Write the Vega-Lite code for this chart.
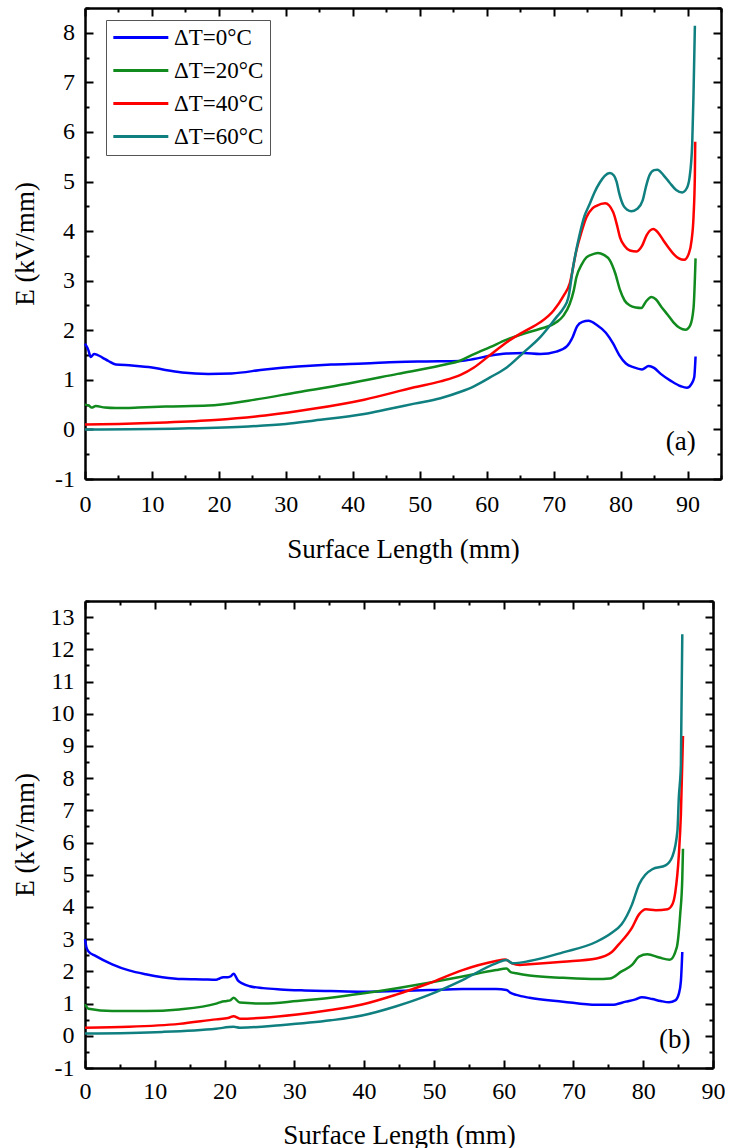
{
  "$schema": "https://vega.github.io/schema/vega-lite/v6.json",
  "background": "white",
  "padding": {"left": 11, "top": 7, "right": 0, "bottom": 0},
  "spacing": 37,
  "config": {
    "view": {"stroke": null},
    "style": {"guide-label": {"font": "Liberation Serif", "fill": "black"}, "guide-title": {"font": "Liberation Serif", "fill": "black"}},
    "axis": {
      "labelFont": "Liberation Serif", "labelColor": "black",
      "titleFont": "Liberation Serif", "titleFontSize": 27, "titleFontWeight": "normal", "titleColor": "black",
      "domainColor": "black", "domainWidth": 2.5, "tickColor": "black", "tickWidth": 2,
      "grid": false, "labelOverlap": false, "labelFlush": false, "labelBound": false
    },
    "legend": {
      "labelFont": "Liberation Serif", "labelFontSize": 23, "labelColor": "black"
    }
  },
  "datasets": {
    "a": [
      {"x":0,"E":1.73,"s":"ΔT=0°C"},{"x":0.5,"E":1.6,"s":"ΔT=0°C"},{"x":0.85,"E":1.46,"s":"ΔT=0°C"},{"x":1.35,"E":1.52,"s":"ΔT=0°C"},{"x":1.9,"E":1.5,"s":"ΔT=0°C"},{"x":2.6,"E":1.45,"s":"ΔT=0°C"},{"x":3.5,"E":1.38,"s":"ΔT=0°C"},{"x":4.6,"E":1.31,"s":"ΔT=0°C"},{"x":7,"E":1.29,"s":"ΔT=0°C"},{"x":10,"E":1.25,"s":"ΔT=0°C"},{"x":12,"E":1.2,"s":"ΔT=0°C"},{"x":14.5,"E":1.15,"s":"ΔT=0°C"},{"x":18.4,"E":1.12,"s":"ΔT=0°C"},{"x":21.9,"E":1.13,"s":"ΔT=0°C"},{"x":26.9,"E":1.21,"s":"ΔT=0°C"},{"x":31.8,"E":1.27,"s":"ΔT=0°C"},{"x":36.8,"E":1.31,"s":"ΔT=0°C"},{"x":41.7,"E":1.33,"s":"ΔT=0°C"},{"x":46.7,"E":1.36,"s":"ΔT=0°C"},{"x":51,"E":1.37,"s":"ΔT=0°C"},{"x":56.1,"E":1.38,"s":"ΔT=0°C"},{"x":58.1,"E":1.42,"s":"ΔT=0°C"},{"x":60.6,"E":1.49,"s":"ΔT=0°C"},{"x":63,"E":1.53,"s":"ΔT=0°C"},{"x":65.5,"E":1.54,"s":"ΔT=0°C"},{"x":68,"E":1.52,"s":"ΔT=0°C"},{"x":70.4,"E":1.57,"s":"ΔT=0°C"},{"x":72,"E":1.68,"s":"ΔT=0°C"},{"x":72.8,"E":1.85,"s":"ΔT=0°C"},{"x":73.5,"E":2.08,"s":"ΔT=0°C"},{"x":74.3,"E":2.17,"s":"ΔT=0°C"},{"x":75.2,"E":2.19,"s":"ΔT=0°C"},{"x":76.5,"E":2.1,"s":"ΔT=0°C"},{"x":77.8,"E":1.95,"s":"ΔT=0°C"},{"x":78.9,"E":1.73,"s":"ΔT=0°C"},{"x":79.8,"E":1.5,"s":"ΔT=0°C"},{"x":80.8,"E":1.33,"s":"ΔT=0°C"},{"x":82,"E":1.25,"s":"ΔT=0°C"},{"x":83.2,"E":1.21,"s":"ΔT=0°C"},{"x":84.2,"E":1.28,"s":"ΔT=0°C"},{"x":85,"E":1.24,"s":"ΔT=0°C"},{"x":86,"E":1.12,"s":"ΔT=0°C"},{"x":87.5,"E":0.98,"s":"ΔT=0°C"},{"x":89,"E":0.87,"s":"ΔT=0°C"},{"x":89.9,"E":0.84,"s":"ΔT=0°C"},{"x":90.6,"E":0.92,"s":"ΔT=0°C"},{"x":91,"E":1.05,"s":"ΔT=0°C"},{"x":91.2,"E":1.47,"s":"ΔT=0°C"},
      {"x":0,"E":0.5,"s":"ΔT=20°C"},{"x":0.6,"E":0.48,"s":"ΔT=20°C"},{"x":1,"E":0.44,"s":"ΔT=20°C"},{"x":1.6,"E":0.47,"s":"ΔT=20°C"},{"x":3,"E":0.44,"s":"ΔT=20°C"},{"x":4.6,"E":0.43,"s":"ΔT=20°C"},{"x":8,"E":0.44,"s":"ΔT=20°C"},{"x":12,"E":0.46,"s":"ΔT=20°C"},{"x":18.4,"E":0.48,"s":"ΔT=20°C"},{"x":24.4,"E":0.58,"s":"ΔT=20°C"},{"x":31.8,"E":0.75,"s":"ΔT=20°C"},{"x":39.2,"E":0.92,"s":"ΔT=20°C"},{"x":46.7,"E":1.12,"s":"ΔT=20°C"},{"x":53.1,"E":1.29,"s":"ΔT=20°C"},{"x":56.1,"E":1.39,"s":"ΔT=20°C"},{"x":58.1,"E":1.52,"s":"ΔT=20°C"},{"x":60.5,"E":1.66,"s":"ΔT=20°C"},{"x":63,"E":1.81,"s":"ΔT=20°C"},{"x":65.5,"E":1.93,"s":"ΔT=20°C"},{"x":68,"E":2.03,"s":"ΔT=20°C"},{"x":70.4,"E":2.16,"s":"ΔT=20°C"},{"x":71.5,"E":2.3,"s":"ΔT=20°C"},{"x":72.4,"E":2.53,"s":"ΔT=20°C"},{"x":73,"E":2.8,"s":"ΔT=20°C"},{"x":73.4,"E":3.07,"s":"ΔT=20°C"},{"x":74.2,"E":3.33,"s":"ΔT=20°C"},{"x":74.9,"E":3.47,"s":"ΔT=20°C"},{"x":76,"E":3.54,"s":"ΔT=20°C"},{"x":76.6,"E":3.56,"s":"ΔT=20°C"},{"x":77.5,"E":3.52,"s":"ΔT=20°C"},{"x":78.4,"E":3.41,"s":"ΔT=20°C"},{"x":79.2,"E":3.15,"s":"ΔT=20°C"},{"x":79.9,"E":2.82,"s":"ΔT=20°C"},{"x":80.6,"E":2.6,"s":"ΔT=20°C"},{"x":81.4,"E":2.5,"s":"ΔT=20°C"},{"x":82.3,"E":2.46,"s":"ΔT=20°C"},{"x":83.1,"E":2.45,"s":"ΔT=20°C"},{"x":83.8,"E":2.58,"s":"ΔT=20°C"},{"x":84.6,"E":2.67,"s":"ΔT=20°C"},{"x":85.3,"E":2.62,"s":"ΔT=20°C"},{"x":86.1,"E":2.47,"s":"ΔT=20°C"},{"x":87,"E":2.32,"s":"ΔT=20°C"},{"x":87.9,"E":2.16,"s":"ΔT=20°C"},{"x":88.8,"E":2.05,"s":"ΔT=20°C"},{"x":89.7,"E":2.01,"s":"ΔT=20°C"},{"x":90.4,"E":2.1,"s":"ΔT=20°C"},{"x":90.9,"E":2.45,"s":"ΔT=20°C"},{"x":91.2,"E":3.45,"s":"ΔT=20°C"},
      {"x":0,"E":0.1,"s":"ΔT=40°C"},{"x":5,"E":0.11,"s":"ΔT=40°C"},{"x":12,"E":0.14,"s":"ΔT=40°C"},{"x":19.4,"E":0.19,"s":"ΔT=40°C"},{"x":26.9,"E":0.28,"s":"ΔT=40°C"},{"x":34.3,"E":0.42,"s":"ΔT=40°C"},{"x":41.7,"E":0.6,"s":"ΔT=40°C"},{"x":49.2,"E":0.85,"s":"ΔT=40°C"},{"x":53.1,"E":0.97,"s":"ΔT=40°C"},{"x":56.1,"E":1.1,"s":"ΔT=40°C"},{"x":58.1,"E":1.25,"s":"ΔT=40°C"},{"x":60.5,"E":1.5,"s":"ΔT=40°C"},{"x":63,"E":1.76,"s":"ΔT=40°C"},{"x":65.5,"E":1.97,"s":"ΔT=40°C"},{"x":68,"E":2.16,"s":"ΔT=40°C"},{"x":70,"E":2.4,"s":"ΔT=40°C"},{"x":71.5,"E":2.7,"s":"ΔT=40°C"},{"x":72.4,"E":2.94,"s":"ΔT=40°C"},{"x":73.4,"E":3.61,"s":"ΔT=40°C"},{"x":74.2,"E":4,"s":"ΔT=40°C"},{"x":74.9,"E":4.28,"s":"ΔT=40°C"},{"x":75.8,"E":4.46,"s":"ΔT=40°C"},{"x":76.4,"E":4.51,"s":"ΔT=40°C"},{"x":77.7,"E":4.56,"s":"ΔT=40°C"},{"x":78.9,"E":4.38,"s":"ΔT=40°C"},{"x":79.5,"E":4.1,"s":"ΔT=40°C"},{"x":79.9,"E":3.88,"s":"ΔT=40°C"},{"x":80.6,"E":3.7,"s":"ΔT=40°C"},{"x":81.4,"E":3.61,"s":"ΔT=40°C"},{"x":82.4,"E":3.59,"s":"ΔT=40°C"},{"x":83.2,"E":3.7,"s":"ΔT=40°C"},{"x":83.9,"E":3.92,"s":"ΔT=40°C"},{"x":84.9,"E":4.04,"s":"ΔT=40°C"},{"x":85.6,"E":3.97,"s":"ΔT=40°C"},{"x":86.4,"E":3.81,"s":"ΔT=40°C"},{"x":87.2,"E":3.66,"s":"ΔT=40°C"},{"x":87.9,"E":3.54,"s":"ΔT=40°C"},{"x":88.7,"E":3.45,"s":"ΔT=40°C"},{"x":89.5,"E":3.42,"s":"ΔT=40°C"},{"x":90.2,"E":3.55,"s":"ΔT=40°C"},{"x":90.6,"E":3.81,"s":"ΔT=40°C"},{"x":90.9,"E":4.3,"s":"ΔT=40°C"},{"x":91.1,"E":5.15,"s":"ΔT=40°C"},{"x":91.15,"E":5.8,"s":"ΔT=40°C"},
      {"x":0,"E":0,"s":"ΔT=60°C"},{"x":14.5,"E":0.02,"s":"ΔT=60°C"},{"x":24.4,"E":0.06,"s":"ΔT=60°C"},{"x":30,"E":0.11,"s":"ΔT=60°C"},{"x":34.3,"E":0.18,"s":"ΔT=60°C"},{"x":41.7,"E":0.31,"s":"ΔT=60°C"},{"x":45,"E":0.4,"s":"ΔT=60°C"},{"x":49.2,"E":0.52,"s":"ΔT=60°C"},{"x":53.1,"E":0.63,"s":"ΔT=60°C"},{"x":56.1,"E":0.76,"s":"ΔT=60°C"},{"x":58.1,"E":0.87,"s":"ΔT=60°C"},{"x":60.5,"E":1.05,"s":"ΔT=60°C"},{"x":63,"E":1.25,"s":"ΔT=60°C"},{"x":65.5,"E":1.55,"s":"ΔT=60°C"},{"x":68,"E":1.86,"s":"ΔT=60°C"},{"x":70.4,"E":2.26,"s":"ΔT=60°C"},{"x":71.5,"E":2.45,"s":"ΔT=60°C"},{"x":72.2,"E":2.66,"s":"ΔT=60°C"},{"x":72.9,"E":3.27,"s":"ΔT=60°C"},{"x":73.9,"E":3.94,"s":"ΔT=60°C"},{"x":74.6,"E":4.3,"s":"ΔT=60°C"},{"x":75.4,"E":4.55,"s":"ΔT=60°C"},{"x":76.1,"E":4.78,"s":"ΔT=60°C"},{"x":76.9,"E":4.98,"s":"ΔT=60°C"},{"x":77.6,"E":5.11,"s":"ΔT=60°C"},{"x":78.4,"E":5.17,"s":"ΔT=60°C"},{"x":79,"E":5.12,"s":"ΔT=60°C"},{"x":79.4,"E":5,"s":"ΔT=60°C"},{"x":79.8,"E":4.76,"s":"ΔT=60°C"},{"x":80.4,"E":4.52,"s":"ΔT=60°C"},{"x":81,"E":4.43,"s":"ΔT=60°C"},{"x":81.6,"E":4.4,"s":"ΔT=60°C"},{"x":82.5,"E":4.45,"s":"ΔT=60°C"},{"x":83.3,"E":4.62,"s":"ΔT=60°C"},{"x":83.8,"E":4.9,"s":"ΔT=60°C"},{"x":84.3,"E":5.12,"s":"ΔT=60°C"},{"x":85,"E":5.23,"s":"ΔT=60°C"},{"x":85.5,"E":5.24,"s":"ΔT=60°C"},{"x":86.4,"E":5.13,"s":"ΔT=60°C"},{"x":87.3,"E":4.98,"s":"ΔT=60°C"},{"x":88.3,"E":4.83,"s":"ΔT=60°C"},{"x":89.2,"E":4.78,"s":"ΔT=60°C"},{"x":89.9,"E":4.87,"s":"ΔT=60°C"},{"x":90.3,"E":5.08,"s":"ΔT=60°C"},{"x":90.7,"E":5.76,"s":"ΔT=60°C"},{"x":90.9,"E":6.8,"s":"ΔT=60°C"},{"x":91.1,"E":8.14,"s":"ΔT=60°C"}
    ],
    "b": [
      {"x":0,"E":3.0,"s":"ΔT=0°C"},{"x":0.2,"E":2.75,"s":"ΔT=0°C"},{"x":0.5,"E":2.62,"s":"ΔT=0°C"},{"x":1.5,"E":2.48,"s":"ΔT=0°C"},{"x":3.9,"E":2.22,"s":"ΔT=0°C"},{"x":6.3,"E":2.03,"s":"ΔT=0°C"},{"x":8.7,"E":1.91,"s":"ΔT=0°C"},{"x":11.1,"E":1.82,"s":"ΔT=0°C"},{"x":14,"E":1.76,"s":"ΔT=0°C"},{"x":16.9,"E":1.75,"s":"ΔT=0°C"},{"x":18.8,"E":1.74,"s":"ΔT=0°C"},{"x":19.3,"E":1.78,"s":"ΔT=0°C"},{"x":19.8,"E":1.82,"s":"ΔT=0°C"},{"x":20.5,"E":1.82,"s":"ΔT=0°C"},{"x":20.9,"E":1.85,"s":"ΔT=0°C"},{"x":21.3,"E":1.93,"s":"ΔT=0°C"},{"x":21.9,"E":1.72,"s":"ΔT=0°C"},{"x":22.6,"E":1.62,"s":"ΔT=0°C"},{"x":23.6,"E":1.54,"s":"ΔT=0°C"},{"x":25.5,"E":1.48,"s":"ΔT=0°C"},{"x":28,"E":1.44,"s":"ΔT=0°C"},{"x":31.5,"E":1.41,"s":"ΔT=0°C"},{"x":35.2,"E":1.39,"s":"ΔT=0°C"},{"x":39.7,"E":1.37,"s":"ΔT=0°C"},{"x":44.5,"E":1.39,"s":"ΔT=0°C"},{"x":49.3,"E":1.42,"s":"ΔT=0°C"},{"x":54.1,"E":1.45,"s":"ΔT=0°C"},{"x":58.9,"E":1.45,"s":"ΔT=0°C"},{"x":60.4,"E":1.42,"s":"ΔT=0°C"},{"x":61,"E":1.33,"s":"ΔT=0°C"},{"x":61.8,"E":1.27,"s":"ΔT=0°C"},{"x":63.7,"E":1.18,"s":"ΔT=0°C"},{"x":68.5,"E":1.06,"s":"ΔT=0°C"},{"x":73.3,"E":0.96,"s":"ΔT=0°C"},{"x":75.5,"E":0.96,"s":"ΔT=0°C"},{"x":77.5,"E":1.06,"s":"ΔT=0°C"},{"x":78.9,"E":1.13,"s":"ΔT=0°C"},{"x":79.8,"E":1.2,"s":"ΔT=0°C"},{"x":81.3,"E":1.14,"s":"ΔT=0°C"},{"x":82.5,"E":1.08,"s":"ΔT=0°C"},{"x":83.7,"E":1.04,"s":"ΔT=0°C"},{"x":84.6,"E":1.1,"s":"ΔT=0°C"},{"x":85.1,"E":1.3,"s":"ΔT=0°C"},{"x":85.4,"E":1.7,"s":"ΔT=0°C"},{"x":85.6,"E":2.6,"s":"ΔT=0°C"},
      {"x":0,"E":0.98,"s":"ΔT=20°C"},{"x":0.5,"E":0.84,"s":"ΔT=20°C"},{"x":3.9,"E":0.77,"s":"ΔT=20°C"},{"x":8.7,"E":0.77,"s":"ΔT=20°C"},{"x":13.5,"E":0.82,"s":"ΔT=20°C"},{"x":18.8,"E":1.0,"s":"ΔT=20°C"},{"x":19.5,"E":1.05,"s":"ΔT=20°C"},{"x":20.3,"E":1.08,"s":"ΔT=20°C"},{"x":20.8,"E":1.1,"s":"ΔT=20°C"},{"x":21.3,"E":1.18,"s":"ΔT=20°C"},{"x":22.2,"E":1.03,"s":"ΔT=20°C"},{"x":25.6,"E":1.0,"s":"ΔT=20°C"},{"x":30.4,"E":1.08,"s":"ΔT=20°C"},{"x":35.2,"E":1.18,"s":"ΔT=20°C"},{"x":39.7,"E":1.31,"s":"ΔT=20°C"},{"x":44.5,"E":1.47,"s":"ΔT=20°C"},{"x":49.3,"E":1.65,"s":"ΔT=20°C"},{"x":54.1,"E":1.84,"s":"ΔT=20°C"},{"x":58.9,"E":2.04,"s":"ΔT=20°C"},{"x":60.4,"E":2.09,"s":"ΔT=20°C"},{"x":61,"E":1.98,"s":"ΔT=20°C"},{"x":61.8,"E":1.94,"s":"ΔT=20°C"},{"x":63.7,"E":1.87,"s":"ΔT=20°C"},{"x":68.5,"E":1.8,"s":"ΔT=20°C"},{"x":73.3,"E":1.76,"s":"ΔT=20°C"},{"x":75.2,"E":1.78,"s":"ΔT=20°C"},{"x":76.9,"E":2.0,"s":"ΔT=20°C"},{"x":78.4,"E":2.2,"s":"ΔT=20°C"},{"x":79.4,"E":2.46,"s":"ΔT=20°C"},{"x":80.6,"E":2.53,"s":"ΔT=20°C"},{"x":82.3,"E":2.43,"s":"ΔT=20°C"},{"x":83.8,"E":2.36,"s":"ΔT=20°C"},{"x":84.8,"E":2.74,"s":"ΔT=20°C"},{"x":85.3,"E":3.78,"s":"ΔT=20°C"},{"x":85.6,"E":4.9,"s":"ΔT=20°C"},{"x":85.7,"E":5.81,"s":"ΔT=20°C"},
      {"x":0,"E":0.25,"s":"ΔT=40°C"},{"x":6.3,"E":0.28,"s":"ΔT=40°C"},{"x":13.5,"E":0.37,"s":"ΔT=40°C"},{"x":18.8,"E":0.51,"s":"ΔT=40°C"},{"x":20.5,"E":0.55,"s":"ΔT=40°C"},{"x":21.3,"E":0.61,"s":"ΔT=40°C"},{"x":22.2,"E":0.53,"s":"ΔT=40°C"},{"x":25.6,"E":0.56,"s":"ΔT=40°C"},{"x":30.4,"E":0.66,"s":"ΔT=40°C"},{"x":35.2,"E":0.8,"s":"ΔT=40°C"},{"x":39.7,"E":0.97,"s":"ΔT=40°C"},{"x":44.5,"E":1.27,"s":"ΔT=40°C"},{"x":49.3,"E":1.63,"s":"ΔT=40°C"},{"x":54.1,"E":2.04,"s":"ΔT=40°C"},{"x":58.9,"E":2.32,"s":"ΔT=40°C"},{"x":60.2,"E":2.37,"s":"ΔT=40°C"},{"x":61.2,"E":2.25,"s":"ΔT=40°C"},{"x":62.3,"E":2.2,"s":"ΔT=40°C"},{"x":63.7,"E":2.22,"s":"ΔT=40°C"},{"x":68.5,"E":2.3,"s":"ΔT=40°C"},{"x":73.3,"E":2.4,"s":"ΔT=40°C"},{"x":75.5,"E":2.6,"s":"ΔT=40°C"},{"x":76.5,"E":2.84,"s":"ΔT=40°C"},{"x":78.4,"E":3.36,"s":"ΔT=40°C"},{"x":79.4,"E":3.77,"s":"ΔT=40°C"},{"x":80.4,"E":3.93,"s":"ΔT=40°C"},{"x":81.8,"E":3.9,"s":"ΔT=40°C"},{"x":83.5,"E":3.93,"s":"ΔT=40°C"},{"x":84.2,"E":4.09,"s":"ΔT=40°C"},{"x":84.6,"E":4.46,"s":"ΔT=40°C"},{"x":85.1,"E":5.6,"s":"ΔT=40°C"},{"x":85.4,"E":6.88,"s":"ΔT=40°C"},{"x":85.7,"E":9.31,"s":"ΔT=40°C"},
      {"x":0,"E":0.07,"s":"ΔT=60°C"},{"x":11.1,"E":0.12,"s":"ΔT=60°C"},{"x":18.8,"E":0.22,"s":"ΔT=60°C"},{"x":21.3,"E":0.28,"s":"ΔT=60°C"},{"x":22.2,"E":0.25,"s":"ΔT=60°C"},{"x":28,"E":0.33,"s":"ΔT=60°C"},{"x":35.2,"E":0.48,"s":"ΔT=60°C"},{"x":39.7,"E":0.63,"s":"ΔT=60°C"},{"x":44.5,"E":0.91,"s":"ΔT=60°C"},{"x":49.3,"E":1.27,"s":"ΔT=60°C"},{"x":54.1,"E":1.73,"s":"ΔT=60°C"},{"x":58.9,"E":2.25,"s":"ΔT=60°C"},{"x":60.4,"E":2.35,"s":"ΔT=60°C"},{"x":61.3,"E":2.25,"s":"ΔT=60°C"},{"x":63.7,"E":2.32,"s":"ΔT=60°C"},{"x":68.5,"E":2.59,"s":"ΔT=60°C"},{"x":73.3,"E":2.92,"s":"ΔT=60°C"},{"x":75.5,"E":3.2,"s":"ΔT=60°C"},{"x":76.9,"E":3.46,"s":"ΔT=60°C"},{"x":78.4,"E":4.08,"s":"ΔT=60°C"},{"x":79.4,"E":4.7,"s":"ΔT=60°C"},{"x":80.3,"E":5.0,"s":"ΔT=60°C"},{"x":81.3,"E":5.17,"s":"ΔT=60°C"},{"x":83.2,"E":5.29,"s":"ΔT=60°C"},{"x":84.2,"E":5.58,"s":"ΔT=60°C"},{"x":84.9,"E":6.36,"s":"ΔT=60°C"},{"x":85.1,"E":7.39,"s":"ΔT=60°C"},{"x":85.4,"E":8.43,"s":"ΔT=60°C"},{"x":85.6,"E":12.47,"s":"ΔT=60°C"}
    ]
  },
  "vconcat": [
    {
      "width": 636,
      "height": 471,
      "resolve": {"axis": {"x": "independent", "y": "independent"}},
      "layer": [
        {
          "data": {"name": "a"},
          "mark": {"type": "line", "strokeWidth": 2.5, "interpolate": "monotone"},
          "encoding": {
            "x": {"field": "x", "type": "quantitative",
              "scale": {"domain": [0, 95], "nice": false, "zero": false},
              "axis": {"orient": "bottom", "title": "Surface Length (mm)",
                "values": [0,5,10,15,20,25,30,35,40,45,50,55,60,65,70,75,80,85,90,95],
                "labelExpr": "datum.value % 10 === 0 ? '' + datum.value : ''",
                "labelFont": "Liberation Serif",
                "labelFontSize": {"condition": {"test": "datum.value % 10 !== 0", "value": 0}, "value": 24},
                "tickSize": {"condition": {"test": "datum.value % 10 !== 0", "value": -4}, "value": -8},
                "labelPadding": 21.5, "minExtent": 40, "maxExtent": 40, "titlePadding": 17.5}},
            "y": {"field": "E", "type": "quantitative",
              "scale": {"domain": [-1, 8.5], "nice": false, "zero": false},
              "axis": {"orient": "left", "title": "E (kV/mm)",
                "values": [-1,-0.5,0,0.5,1,1.5,2,2.5,3,3.5,4,4.5,5,5.5,6,6.5,7,7.5,8,8.5],
                "labelExpr": "datum.value % 1 === 0 ? '' + datum.value : ''",
                "labelFont": "Liberation Serif",
                "labelFontSize": {"condition": {"test": "datum.value % 1 !== 0", "value": 0}, "value": 24},
                "tickSize": {"condition": {"test": "datum.value % 1 !== 0", "value": -4}, "value": -8},
                "labelPadding": 18.6, "minExtent": 36, "maxExtent": 36, "titlePadding": 10}},
            "color": {"field": "s", "type": "nominal",
              "scale": {"domain": ["ΔT=0°C","ΔT=20°C","ΔT=40°C","ΔT=60°C"], "range": ["#0000FF","#118A1E","#FF0000","#0F7F7F"]},
              "legend": {"orient": "none", "legendX": 21, "legendY": 12, "title": null,
                "symbolType": "M-1.85,0H8.15", "symbolSize": 121, "symbolStrokeWidth": 3, "symbolFillColor": "transparent",
                "labelFont": "Liberation Serif", "labelFontSize": 23, "labelColor": "black",
                "strokeColor": "#555555", "fillColor": "white", "padding": 6, "rowPadding": 9, "labelOffset": 39}}
          }
        },
        {
          "data": {"name": "a"},
          "mark": {"type": "point", "opacity": 0},
          "encoding": {
            "x": {"field": "x", "type": "quantitative",
              "scale": {"domain": [0, 95], "nice": false, "zero": false},
              "axis": {"orient": "top", "title": null, "labels": false,
                "values": [0,5,10,15,20,25,30,35,40,45,50,55,60,65,70,75,80,85,90,95],
                "tickSize": {"condition": {"test": "datum.value % 10 !== 0", "value": -4}, "value": -8},
                "minExtent": 0, "maxExtent": 0}},
            "y": {"field": "E", "type": "quantitative",
              "scale": {"domain": [-1, 8.5], "nice": false, "zero": false},
              "axis": {"orient": "right", "title": null, "labels": false,
                "values": [-1,-0.5,0,0.5,1,1.5,2,2.5,3,3.5,4,4.5,5,5.5,6,6.5,7,7.5,8,8.5],
                "tickSize": {"condition": {"test": "datum.value % 1 !== 0", "value": -4}, "value": -8},
                "minExtent": 0, "maxExtent": 0}}
          }
        },
        {
          "data": {"values": [{"x": 89, "E": -0.25, "t": "(a)"}]},
          "mark": {"type": "text", "font": "Liberation Serif", "fontSize": 27, "color": "black", "align": "center", "baseline": "middle"},
          "encoding": {
            "x": {"field": "x", "type": "quantitative", "axis": null},
            "y": {"field": "E", "type": "quantitative", "axis": null},
            "text": {"field": "t"}
          }
        }
      ]
    },
    {
      "width": 628,
      "height": 467,
      "resolve": {"axis": {"x": "independent", "y": "independent"}},
      "layer": [
        {
          "data": {"name": "b"},
          "mark": {"type": "line", "strokeWidth": 2.5, "interpolate": "monotone"},
          "encoding": {
            "x": {"field": "x", "type": "quantitative",
              "scale": {"domain": [0, 90], "nice": false, "zero": false},
              "axis": {"orient": "bottom", "title": "Surface Length (mm)",
                "values": [0,5,10,15,20,25,30,35,40,45,50,55,60,65,70,75,80,85,90],
                "labelExpr": "datum.value % 10 === 0 ? '' + datum.value : ''",
                "labelFont": "Liberation Serif",
                "labelFontSize": {"condition": {"test": "datum.value % 10 !== 0", "value": 0}, "value": 24},
                "tickSize": {"condition": {"test": "datum.value % 10 !== 0", "value": -4}, "value": -8},
                "labelPadding": 19, "minExtent": 40, "maxExtent": 40, "titlePadding": 14.7}},
            "y": {"field": "E", "type": "quantitative",
              "scale": {"domain": [-1, 13.5], "nice": false, "zero": false},
              "axis": {"orient": "left", "title": "E (kV/mm)",
                "values": [-1,-0.5,0,0.5,1,1.5,2,2.5,3,3.5,4,4.5,5,5.5,6,6.5,7,7.5,8,8.5,9,9.5,10,10.5,11,11.5,12,12.5,13,13.5],
                "labelExpr": "datum.value % 1 === 0 ? '' + datum.value : ''",
                "labelFont": "Liberation Serif",
                "labelFontSize": {"condition": {"test": "datum.value % 1 !== 0", "value": 0}, "value": 24},
                "tickSize": {"condition": {"test": "datum.value % 1 !== 0", "value": -4}, "value": -8},
                "labelPadding": 19, "minExtent": 42, "maxExtent": 42, "titlePadding": 4}},
            "color": {"field": "s", "type": "nominal",
              "scale": {"domain": ["ΔT=0°C","ΔT=20°C","ΔT=40°C","ΔT=60°C"], "range": ["#0000FF","#118A1E","#FF0000","#0F7F7F"]},
              "legend": {"orient": "none", "legendX": 25, "legendY": 12, "title": null,
                "symbolType": "M-1.85,0H8.15", "symbolSize": 121, "symbolStrokeWidth": 3, "symbolFillColor": "transparent",
                "labelFont": "Liberation Serif", "labelFontSize": 23, "labelColor": "black",
                "strokeColor": "#555555", "fillColor": "white", "padding": 6, "rowPadding": 8.5, "labelOffset": 37}}
          }
        },
        {
          "data": {"name": "b"},
          "mark": {"type": "point", "opacity": 0},
          "encoding": {
            "x": {"field": "x", "type": "quantitative",
              "scale": {"domain": [0, 90], "nice": false, "zero": false},
              "axis": {"orient": "top", "title": null, "labels": false,
                "values": [0,5,10,15,20,25,30,35,40,45,50,55,60,65,70,75,80,85,90],
                "tickSize": {"condition": {"test": "datum.value % 10 !== 0", "value": -4}, "value": -8},
                "minExtent": 0, "maxExtent": 0}},
            "y": {"field": "E", "type": "quantitative",
              "scale": {"domain": [-1, 13.5], "nice": false, "zero": false},
              "axis": {"orient": "right", "title": null, "labels": false,
                "values": [-1,-0.5,0,0.5,1,1.5,2,2.5,3,3.5,4,4.5,5,5.5,6,6.5,7,7.5,8,8.5,9,9.5,10,10.5,11,11.5,12,12.5,13,13.5],
                "tickSize": {"condition": {"test": "datum.value % 1 !== 0", "value": -4}, "value": -8},
                "minExtent": 0, "maxExtent": 0}}
          }
        },
        {
          "data": {"values": [{"x": 84.5, "E": -0.13, "t": "(b)"}]},
          "mark": {"type": "text", "font": "Liberation Serif", "fontSize": 27, "color": "black", "align": "center", "baseline": "middle"},
          "encoding": {
            "x": {"field": "x", "type": "quantitative", "axis": null},
            "y": {"field": "E", "type": "quantitative", "axis": null},
            "text": {"field": "t"}
          }
        }
      ]
    }
  ]
}
